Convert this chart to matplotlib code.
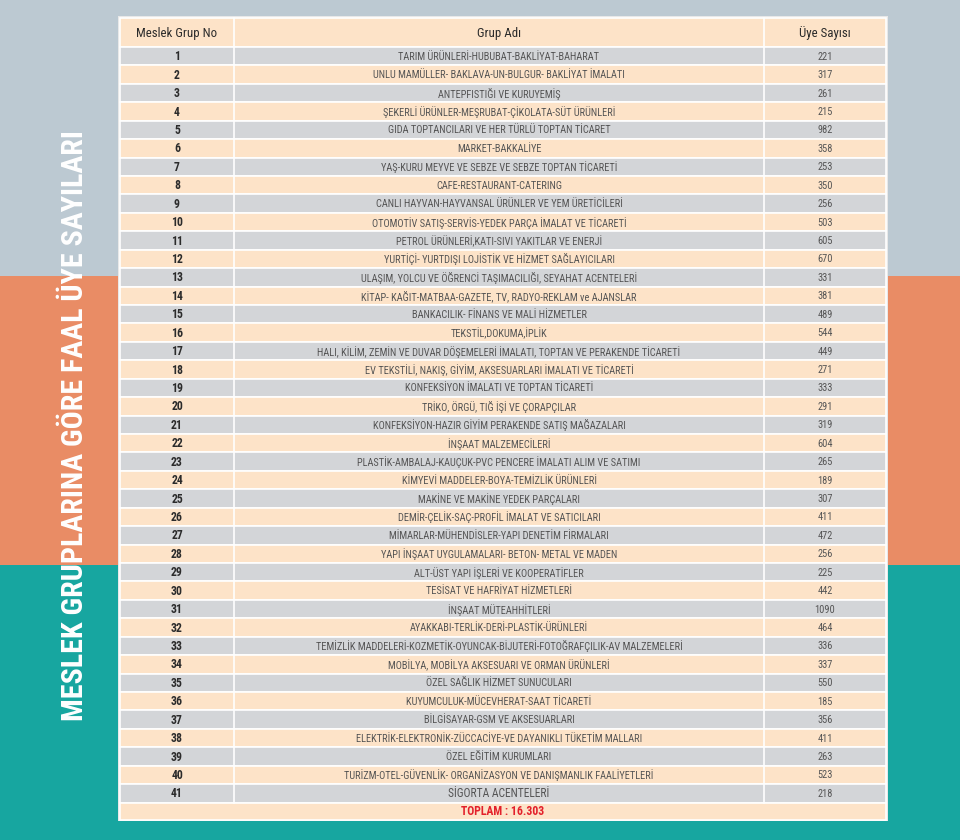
import matplotlib.pyplot as plt
from matplotlib import font_manager
from matplotlib.patches import Rectangle

group_no = list(range(1, 42))
group_names = [
    "TARIM ÜRÜNLERİ-HUBUBAT-BAKLİYAT-BAHARAT",
    "UNLU MAMÜLLER- BAKLAVA-UN-BULGUR- BAKLİYAT İMALATI",
    "ANTEPFISTIĞI VE KURUYEMİŞ",
    "ŞEKERLİ ÜRÜNLER-MEŞRUBAT-ÇİKOLATA-SÜT ÜRÜNLERİ",
    "GIDA TOPTANCILARI VE HER TÜRLÜ TOPTAN TİCARET",
    "MARKET-BAKKALİYE",
    "YAŞ-KURU MEYVE VE SEBZE VE SEBZE TOPTAN TİCARETİ",
    "CAFE-RESTAURANT-CATERING",
    "CANLI HAYVAN-HAYVANSAL ÜRÜNLER VE YEM ÜRETİCİLERİ",
    "OTOMOTİV SATIŞ-SERVİS-YEDEK PARÇA İMALAT VE TİCARETİ",
    "PETROL ÜRÜNLERİ,KATI-SIVI YAKITLAR VE ENERJİ",
    "YURTİÇİ- YURTDIŞI LOJİSTİK VE HİZMET SAĞLAYICILARI",
    "ULAŞIM, YOLCU VE ÖĞRENCİ TAŞIMACILIĞI, SEYAHAT ACENTELERİ",
    "KİTAP- KAĞIT-MATBAA-GAZETE, TV, RADYO-REKLAM ve AJANSLAR",
    "BANKACILIK- FİNANS VE MALİ HİZMETLER",
    "TEKSTİL,DOKUMA,İPLİK",
    "HALI, KİLİM, ZEMİN VE DUVAR DÖŞEMELERİ İMALATI, TOPTAN VE PERAKENDE TİCARETİ",
    "EV TEKSTİLİ, NAKIŞ, GİYİM, AKSESUARLARI İMALATI VE TİCARETİ",
    "KONFEKSİYON İMALATI VE TOPTAN TİCARETİ",
    "TRİKO, ÖRGÜ, TIĞ İŞİ VE ÇORAPÇILAR",
    "KONFEKSİYON-HAZIR GİYİM PERAKENDE SATIŞ MAĞAZALARI",
    "İNŞAAT MALZEMECİLERİ",
    "PLASTİK-AMBALAJ-KAUÇUK-PVC PENCERE İMALATI ALIM VE SATIMI",
    "KİMYEVİ MADDELER-BOYA-TEMİZLİK ÜRÜNLERİ",
    "MAKİNE VE MAKİNE YEDEK PARÇALARI",
    "DEMİR-ÇELİK-SAÇ-PROFİL İMALAT VE SATICILARI",
    "MİMARLAR-MÜHENDİSLER-YAPI DENETİM FİRMALARI",
    "YAPI İNŞAAT UYGULAMALARI- BETON- METAL VE MADEN",
    "ALT-ÜST YAPI İŞLERİ VE KOOPERATİFLER",
    "TESİSAT VE HAFRİYAT HİZMETLERİ",
    "İNŞAAT MÜTEAHHİTLERİ",
    "AYAKKABI-TERLİK-DERİ-PLASTİK-ÜRÜNLERİ",
    "TEMİZLİK MADDELERİ-KOZMETİK-OYUNCAK-BİJUTERİ-FOTOĞRAFÇILIK-AV MALZEMELERİ",
    "MOBİLYA, MOBİLYA AKSESUARI VE ORMAN ÜRÜNLERİ",
    "ÖZEL SAĞLIK HİZMET SUNUCULARI",
    "KUYUMCULUK-MÜCEVHERAT-SAAT TİCARETİ",
    "BİLGİSAYAR-GSM VE AKSESUARLARI",
    "ELEKTRİK-ELEKTRONİK-ZÜCCACİYE-VE DAYANIKLI TÜKETİM MALLARI",
    "ÖZEL EĞİTİM KURUMLARI",
    "TURİZM-OTEL-GÜVENLİK- ORGANİZASYON VE DANIŞMANLIK FAALİYETLERİ",
    "SİGORTA ACENTELERİ",
]
member_counts = [221, 317, 261, 215, 982, 358, 253, 350, 256, 503, 605, 670,
                 331, 381, 489, 544, 449, 271, 333, 291, 319, 604, 265, 189,
                 307, 411, 472, 256, 225, 442, 1090, 464, 336, 337, 550, 185,
                 356, 411, 263, 523, 218]
headers = ["Meslek Grup No", "Grup Adı", "Üye Sayısı"]
title = "MESLEK GRUPLARINA GÖRE FAAL ÜYE SAYILARI"
total_label = "TOPLAM : 16.303"

# pick a narrow face if one is around, otherwise plain sans
installed = {f.name for f in font_manager.fontManager.ttflist}
narrow = [n for n in ("Liberation Sans Narrow", "Roboto Condensed",
                      "Open Sans Condensed", "DejaVu Sans Condensed")
          if n in installed]
FONT = narrow[:1] + ["DejaVu Sans"]

GRAY_ROW = "#d3d5d8"
PEACH_ROW = "#fde3c8"
TEXT = "#555555"

fig = plt.figure(figsize=(9.6, 8.4), dpi=100)
ax = fig.add_axes([0, 0, 1, 1])
ax.set_xlim(0, 960)
ax.set_ylim(840, 0)
ax.axis("off")

# background bands
ax.add_patch(Rectangle((0, 0), 960, 276, facecolor="#bcc9d2", edgecolor="none"))
ax.add_patch(Rectangle((0, 276), 960, 289, facecolor="#e98c65", edgecolor="none"))
ax.add_patch(Rectangle((0, 565), 960, 275, facecolor="#17a6a0", edgecolor="none"))

# vertical title, sized so it runs from y~130 to y~720
t = ax.text(75, 426, title, rotation=90, ha="center", va="center",
            fontsize=20, weight="bold", color="white", family=FONT,
            stretch="condensed")
fig.canvas.draw()
ext = t.get_window_extent()
t.set_fontsize(20 * 590 / ext.height)

# table geometry
x0, x1, x2, x3 = 120, 234, 764, 886
head_top, head_h = 18, 29
row_h = 18.43
first_top = head_top + head_h

ax.add_patch(Rectangle((x0 - 2, head_top - 2), x3 - x0 + 4, 805,
                       facecolor="#e8e8e8", edgecolor="none"))

ax.add_patch(Rectangle((x0, head_top), x3 - x0, head_h,
                       facecolor=PEACH_ROW, edgecolor="white", lw=1.2))
for cx, h in zip([(x0 + x1) / 2, (x1 + x2) / 2, (x2 + x3) / 2], headers):
    ax.text(cx, head_top + head_h / 2 + 0.5, h, ha="center", va="center",
            fontsize=9.3, color="#2b2b2b", family=FONT)

for i, (no, name, cnt) in enumerate(zip(group_no, group_names, member_counts)):
    top = first_top + i * row_h
    fc = GRAY_ROW if i % 2 == 0 else PEACH_ROW
    ax.add_patch(Rectangle((x0, top), x3 - x0, row_h,
                           facecolor=fc, edgecolor="white", lw=1.2))
    cy = top + row_h / 2 + 0.5
    ax.text((x0 + x1) / 2, cy, str(no), ha="center", va="center",
            fontsize=8.5, weight="bold", color="#2b2b2b", family=FONT)
    fs = 8.3 if no == 41 else 7.5
    ax.text((x1 + x2) / 2, cy, name, ha="center", va="center",
            fontsize=fs, color=TEXT, family=FONT)
    ax.text((x2 + x3) / 2, cy, str(cnt), ha="center", va="center",
            fontsize=7.5, color=TEXT, family=FONT)

# column separators
bottom_rows = first_top + len(group_no) * row_h
for x in (x1, x2):
    ax.plot([x, x], [head_top, bottom_rows], color="white", lw=1.2)

total_top = bottom_rows
total_h = 820 - total_top
ax.add_patch(Rectangle((x0, total_top), x3 - x0, total_h,
                       facecolor=PEACH_ROW, edgecolor="white", lw=1.2))
ax.text((x0 + x3) / 2, total_top + total_h / 2 + 0.5, total_label,
        ha="center", va="center", fontsize=8.5, weight="bold",
        color="#e3202a", family=FONT)

fig.savefig("out.png", dpi=100, facecolor="white")
